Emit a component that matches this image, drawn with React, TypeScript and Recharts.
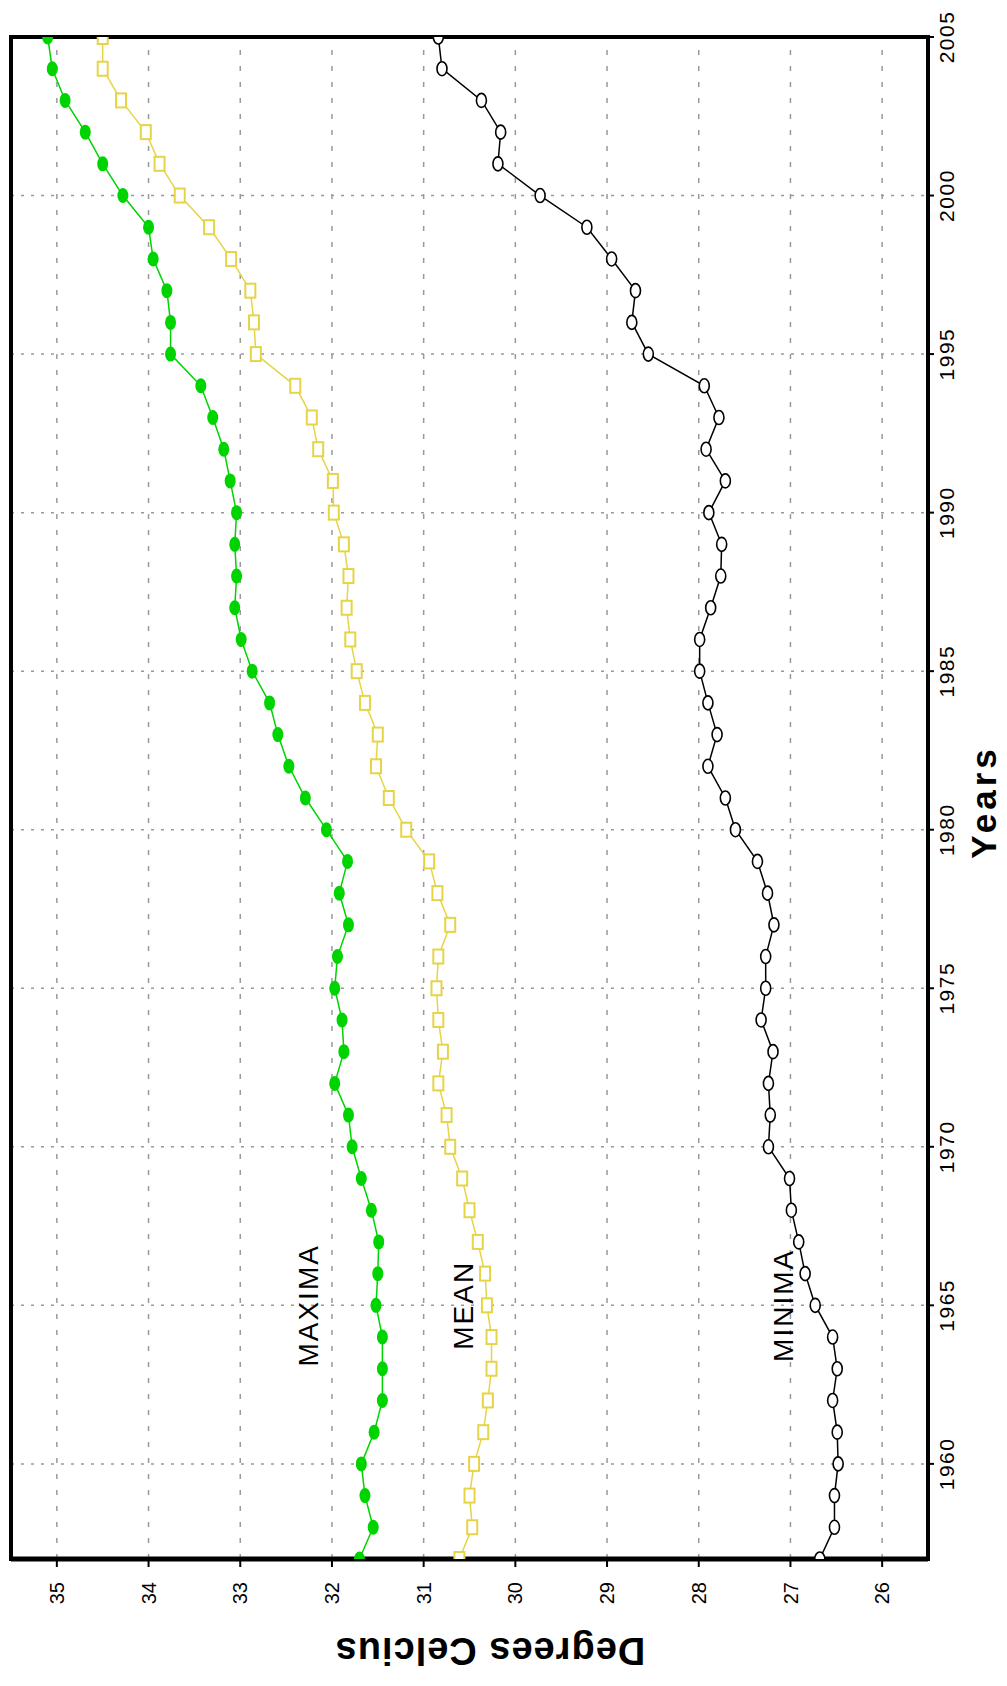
import React from "react";
import {
  LineChart,
  Line,
  XAxis,
  YAxis,
  CartesianGrid,
  ReferenceArea,
  ReferenceDot,
} from "recharts";

// years along the (rotated) horizontal axis
const years = [
  1957, 1958, 1959, 1960, 1961, 1962, 1963, 1964, 1965, 1966, 1967, 1968, 1969,
  1970, 1971, 1972, 1973, 1974, 1975, 1976, 1977, 1978, 1979, 1980, 1981, 1982,
  1983, 1984, 1985, 1986, 1987, 1988, 1989, 1990, 1991, 1992, 1993, 1994, 1995,
  1996, 1997, 1998, 1999, 2000, 2001, 2002, 2003, 2004, 2005,
];

const maxima = [
  31.7, 31.55, 31.64, 31.68, 31.54, 31.45, 31.45, 31.45, 31.52, 31.5, 31.49,
  31.57, 31.68, 31.78, 31.82, 31.97, 31.87, 31.89, 31.97, 31.94, 31.82, 31.92,
  31.83, 32.06, 32.29, 32.47, 32.59, 32.68, 32.87, 32.99, 33.06, 33.04, 33.06,
  33.04, 33.11, 33.18, 33.3, 33.43, 33.76, 33.76, 33.8, 33.95, 34.0, 34.28,
  34.5, 34.69, 34.91, 35.05, 35.1,
];

const mean = [
  30.61, 30.47, 30.5, 30.45, 30.35, 30.3, 30.26, 30.26, 30.31, 30.33, 30.41,
  30.5, 30.58, 30.71, 30.75, 30.84, 30.79, 30.84, 30.86, 30.84, 30.71, 30.85,
  30.94, 31.19, 31.38, 31.52, 31.5, 31.64, 31.73, 31.8, 31.84, 31.82, 31.87,
  31.98, 31.99, 32.15, 32.22, 32.4, 32.83, 32.85, 32.89, 33.1, 33.34, 33.66,
  33.88, 34.03, 34.3, 34.5, 34.5,
];

const minima = [
  26.68, 26.52, 26.52, 26.48, 26.49, 26.54, 26.49, 26.54, 26.73, 26.84, 26.91,
  26.99, 27.01, 27.24, 27.22, 27.24, 27.19, 27.32, 27.27, 27.27, 27.18, 27.25,
  27.36, 27.6, 27.71, 27.9, 27.8, 27.9, 27.99, 27.99, 27.87, 27.76, 27.75,
  27.89, 27.71, 27.92, 27.78, 27.94, 28.55, 28.73, 28.69, 28.95, 29.22, 29.73,
  30.19, 30.16, 30.37, 30.8, 30.84,
];

const yearTicks = [1960, 1965, 1970, 1975, 1980, 1985, 1990, 1995, 2000, 2005];
const degreeTicks = [26, 27, 28, 29, 30, 31, 32, 33, 34, 35];

const GREEN = "#00d400";
const YELLOW = "#e6d447";
const GRID = "#9a9a9a";

const data = years.map((year, i) => ({
  year,
  maxima: maxima[i],
  mean: mean[i],
  minima: minima[i],
}));

const greenDot = (p: any) => (
  <ellipse key={"g" + p.index} cx={p.cx} cy={p.cy} rx={7.5} ry={5.5} fill={GREEN} />
);
const squareDot = (p: any) => (
  <rect
    key={"s" + p.index}
    x={p.cx - 7}
    y={p.cy - 5}
    width={14}
    height={10}
    fill="#fff"
    stroke={YELLOW}
    strokeWidth={2}
  />
);
const ringDot = (p: any) => (
  <ellipse
    key={"r" + p.index}
    cx={p.cx}
    cy={p.cy}
    rx={7}
    ry={5}
    fill="#fff"
    stroke="#000"
    strokeWidth={1.6}
  />
);

const seriesText = (text: string) => (p: any) => (
  <text
    x={p.cx}
    y={p.cy}
    textAnchor="middle"
    dominantBaseline="central"
    fontSize={28}
    letterSpacing={2}
    fill="#000"
  >
    {text}
  </text>
);

function App() {
  return (
    <div
      style={{
        position: "absolute",
        left: 0,
        top: 0,
        width: 1007,
        height: 1686,
        overflow: "hidden",
        background: "#fff",
        fontFamily: "'Liberation Sans', Arial, sans-serif",
      }}
    >
      {/* chart drawn in landscape, then turned a quarter turn left */}
      <div
        style={{
          position: "absolute",
          left: 0,
          top: 0,
          width: 1686,
          height: 1007,
          transformOrigin: "0 0",
          transform: "translateY(1686px) rotate(-90deg)",
        }}
      >
        <LineChart
          width={1686}
          height={1007}
          data={data}
          margin={{ top: 11, right: 37, bottom: 0, left: 0 }}
        >
          <CartesianGrid
            vertical={false}
            stroke={GRID}
            strokeWidth={1.5}
            strokeDasharray="5 11"
          />
          <CartesianGrid
            horizontal={false}
            stroke={GRID}
            strokeWidth={1.5}
            strokeDasharray="3 7"
          />
          <XAxis
            dataKey="year"
            type="number"
            domain={[1957, 2005]}
            ticks={yearTicks}
            allowDataOverflow
            height={79}
            tickSize={6}
            tickMargin={5}
            axisLine={{ stroke: "#000", strokeWidth: 4 }}
            tickLine={{ stroke: "#000", strokeWidth: 2 }}
            tick={{ fontSize: 21, fill: "#000", letterSpacing: 1.5 }}
            label={{
              content: () => (
                <text
                  x={884}
                  y={996}
                  textAnchor="middle"
                  fontSize={35}
                  fontWeight="bold"
                  letterSpacing={4}
                  fill="#000"
                >
                  Years
                </text>
              ),
            }}
          />
          <YAxis
            type="number"
            domain={[25.5, 35.5]}
            ticks={degreeTicks}
            allowDataOverflow
            width={127}
            tickSize={8}
            tickMargin={15}
            axisLine={{ stroke: "#000", strokeWidth: 5 }}
            tickLine={{ stroke: "#000", strokeWidth: 2 }}
            tick={{ fontSize: 20, fill: "#000" }}
            label={{
              content: () => (
                <text
                  x={48}
                  y={490}
                  transform="rotate(-90 48 490)"
                  textAnchor="middle"
                  fontSize={38}
                  fontWeight="bold"
                  letterSpacing={1}
                  fill="#000"
                >
                  Degrees Celcius
                </text>
              ),
            }}
          />
          <Line
            dataKey="maxima"
            stroke={GREEN}
            strokeWidth={1.5}
            dot={greenDot}
            isAnimationActive={false}
          />
          <Line
            dataKey="mean"
            stroke={YELLOW}
            strokeWidth={1.5}
            dot={squareDot}
            isAnimationActive={false}
          />
          <Line
            dataKey="minima"
            stroke="#000"
            strokeWidth={1.5}
            dot={ringDot}
            isAnimationActive={false}
          />
          <ReferenceArea
            x1={1957}
            x2={2005}
            y1={25.5}
            y2={35.5}
            fill="none"
            stroke="#000"
            strokeWidth={4}
            ifOverflow="visible"
          />
          <ReferenceDot x={1965} y={32.26} r={0} shape={seriesText("MAXIMA")} />
          <ReferenceDot x={1965} y={30.56} r={0} shape={seriesText("MEAN")} />
          <ReferenceDot x={1965} y={27.08} r={0} shape={seriesText("MINIMA")} />
        </LineChart>
      </div>
    </div>
  );
}

export default App;
